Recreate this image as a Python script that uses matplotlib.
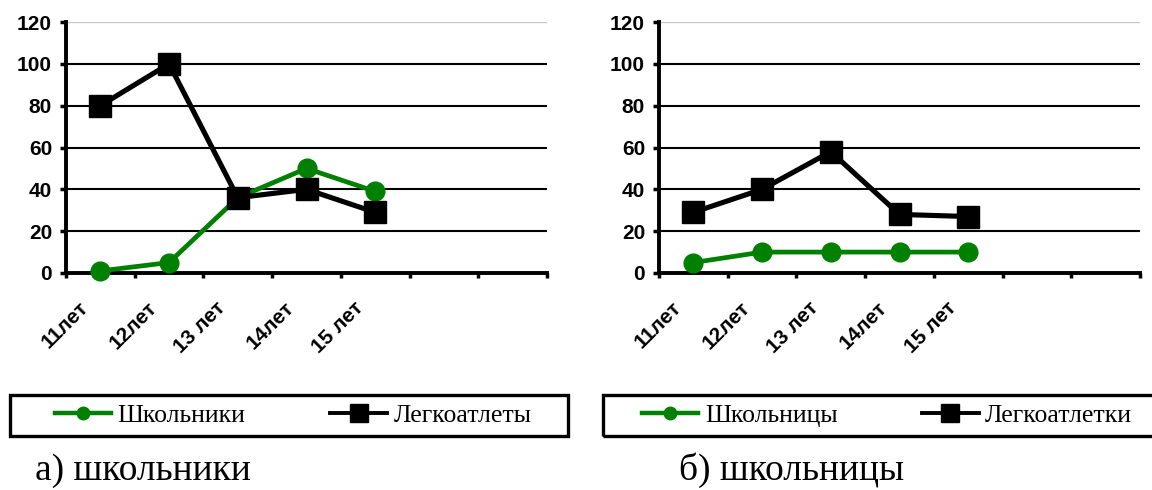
import matplotlib
matplotlib.use("Agg")
import matplotlib.pyplot as plt
from matplotlib.lines import Line2D
from matplotlib.patches import Rectangle
from matplotlib.transforms import ScaledTranslation

ages = ["11лет", "12лет", "13 лет", "14лет", "15 лет"]
n_slots = 7

boys = [1, 5, 36, 50, 39]
boy_athletes = [80, 100, 36, 40, 29]
girls = [5, 10, 10, 10, 10]
girl_athletes = [29, 40, 58, 28, 27]

green = "#008000"
sans = ["Liberation Sans", "DejaVu Sans"]
serif = ["Liberation Serif", "DejaVu Serif"]

fig = plt.figure(figsize=(11.52, 4.9), dpi=100)


def panel(rect, school, sport):
    ax = fig.add_axes(rect)
    xs = [i + 0.5 for i in range(len(ages))]
    ax.plot(xs, school, color=green, lw=3.4, marker="o", ms=13.5,
            zorder=4, clip_on=False)
    ax.plot(xs, sport, color="black", lw=3.7, marker="s", ms=15.5,
            zorder=5, clip_on=False)
    ax.set_xlim(0, n_slots)
    ax.set_ylim(0, 120)
    ax.set_yticks(range(0, 121, 20))
    ax.set_xticks(range(n_slots + 1))
    ax.set_xticklabels([])
    ax.set_xticks(xs, minor=True)
    ax.set_xticklabels(ages, minor=True, rotation=45, ha="right", va="top",
                       rotation_mode="anchor", fontsize=15,
                       fontweight="bold", family=sans)
    ax.tick_params(axis="x", which="minor", length=0, pad=18)
    ax.tick_params(axis="x", which="major", direction="out", length=3.5,
                   width=2.5)
    ax.tick_params(axis="y", direction="out", length=4, width=2.5, pad=6)
    for lab in ax.get_yticklabels():
        lab.set_fontsize(15)
        lab.set_fontweight("bold")
        lab.set_family(sans)
    shift = ScaledTranslation(-22 / 100, 0, fig.dpi_scale_trans)
    for lab in ax.get_xticklabels(minor=True):
        lab.set_transform(lab.get_transform() + shift)
    for s in ("top", "right"):
        ax.spines[s].set_visible(False)
    for s in ("left", "bottom"):
        ax.spines[s].set_linewidth(2.8)
        ax.spines[s].set_zorder(3)
    ax.grid(axis="y", color="black", lw=1.5)
    ax.get_ygridlines()[-1].set_color("#c8c8c8")
    ax.get_ygridlines()[-1].set_linewidth(1.0)
    ax.set_axisbelow(True)
    return ax


panel([66 / 1152, 217 / 490, 481 / 1152, 251 / 490], boys, boy_athletes)
panel([659 / 1152, 217 / 490, 481 / 1152, 251 / 490], girls, girl_athletes)


def legend_box(x0, x1, cx, labels):
    fig.patches.append(Rectangle((x0 / 1152, 54 / 490), (x1 - x0) / 1152,
                                 41 / 490, transform=fig.transFigure,
                                 fill=False, ec="black", lw=2.4))
    handles = [
        Line2D([], [], color=green, lw=3.2, marker="o", ms=9),
        Line2D([], [], color="black", lw=2.8, marker="s", ms=12.5),
    ]
    fig.legend(handles, labels, loc="center", ncol=2, frameon=False,
               bbox_to_anchor=(cx / 1152, 74.5 / 490),
               prop={"family": serif, "size": 18.5},
               handlelength=2.2, handletextpad=0.25, columnspacing=3.3,
               borderpad=0, borderaxespad=0)


legend_box(10, 568, 293, ["Школьники", "Легкоатлеты"])
legend_box(603, 1175, 887, ["Школьницы", "Легкоатлетки"])

fig.text(35 / 1152, 10 / 490, "а) школьники", family=serif, fontsize=27,
         va="baseline")
fig.text(679 / 1152, 10 / 490, "б) школьницы", family=serif, fontsize=27,
         va="baseline")

fig.savefig("out.png", dpi=100)
